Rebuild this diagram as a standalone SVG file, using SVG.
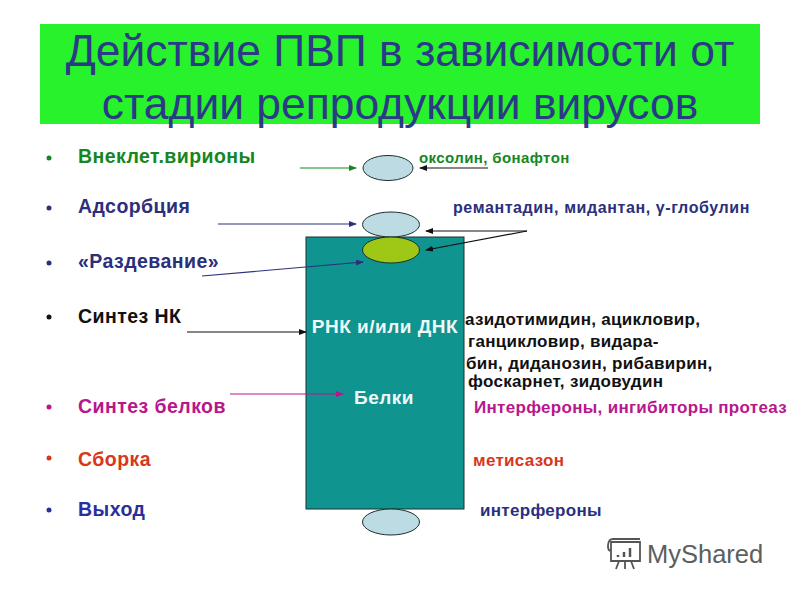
<svg xmlns="http://www.w3.org/2000/svg" width="800" height="600" viewBox="0 0 800 600">
<defs>
<marker id="ah" markerWidth="8" markerHeight="6" refX="7" refY="3" orient="auto" markerUnits="userSpaceOnUse"><path d="M0 0L8 3L0 6Z" fill="context-stroke"/></marker>
</defs>
<style>
text{font-family:"Liberation Sans",Arial,sans-serif}
.t{font-size:44.400px;fill:#2b3a86;text-anchor:middle}
.b{font-size:19.500px;font-weight:bold;letter-spacing:.45px}
.d{font-size:17px;font-weight:bold;letter-spacing:.3px}
.d2{font-size:16px;font-weight:bold;letter-spacing:.6px}
.d3{font-size:15px;font-weight:bold;letter-spacing:.4px}
.c{stroke-width:1.200;fill:none;marker-end:url(#ah)}
.e{stroke:#1c3030;stroke-width:1;fill:#bcdbe2}
.w{font-size:19px;font-weight:bold;fill:#eef8f6;text-anchor:middle;letter-spacing:.5px}
</style>
<rect width="800" height="600" fill="#fff"/>
<g id="title">
<rect x="40" y="24" width="720" height="100" fill="#27f22b"/>
<text class="t" x="400" y="66">Действие ПВП в зависимости от</text>
<text class="t" x="400" y="119">стадии репродукции вирусов</text>
</g>
<g id="cell"><rect x="306" y="237" width="158" height="272" fill="#0f9490" stroke="#1c3030"/>
<text class="w" x="385" y="333">РНК и/или ДНК</text>
<text class="w" x="384" y="404">Белки</text></g>
<g id="virion-1"><ellipse class="e" cx="388" cy="168" rx="25" ry="12.500"/></g>
<g id="virion-2"><ellipse class="e" cx="391" cy="224.500" rx="28.500" ry="12.500"/></g>
<g id="virion-3"><ellipse cx="391" cy="250" rx="28.500" ry="13" fill="#9fc716" stroke="#1c3030"/></g>
<g id="virion-4"><ellipse class="e" cx="391" cy="522" rx="28.500" ry="13"/></g>
<g id="stages">
<circle cx="49" cy="158" r="2.500" fill="#15871f"/><text class="b" x="78" y="163" fill="#15871f">Внеклет.вирионы</text>
<circle cx="49" cy="208" r="2.500" fill="#2b2f7c"/><text class="b" x="78" y="213" fill="#2b2f7c">Адсорбция</text>
<circle cx="49" cy="263" r="2.500" fill="#2b2f7c"/><text class="b" x="78" y="268" fill="#2b2f7c">«Раздевание»</text>
<circle cx="49" cy="317" r="2.500" fill="#111"/><text class="b" x="78" y="323" fill="#111">Синтез НК</text>
<circle cx="49" cy="407" r="2.500" fill="#b8178c"/><text class="b" x="78" y="413" fill="#b8178c">Синтез белков</text>
<circle cx="49" cy="458" r="2.500" fill="#d9361a"/><text class="b" x="78" y="466" fill="#d9361a">Сборка</text>
<circle cx="49" cy="510" r="2.500" fill="#2b2f9c"/><text class="b" x="78" y="516" fill="#2b2f9c">Выход</text>
</g>
<g id="drugs">
<text class="d3" x="419" y="163" fill="#15871f">оксолин, бонафтон</text>
<text class="d2" x="453" y="213" fill="#2b2f7c">ремантадин, мидантан, γ-глобулин</text>
<text class="d" x="465" y="325" fill="#111">азидотимидин, ацикловир,</text>
<text class="d" x="468" y="347" fill="#111">ганцикловир, видара-</text>
<text class="d" x="466" y="369" fill="#111">бин, диданозин, рибавирин,</text>
<text class="d" x="468" y="387" fill="#111">фоскарнет, зидовудин</text>
<text class="d" x="474" y="413" fill="#b8178c">Интерфероны, ингибиторы протеаз</text>
<text class="d" x="473" y="466" fill="#d9361a">метисазон</text>
<text class="d" x="480" y="516" fill="#2b2f7c">интерфероны</text>
</g>
<g id="connectors">
<line class="c" x1="300" y1="168" x2="356" y2="168" stroke="#15871f"/>
<line class="c" x1="488" y1="168" x2="420" y2="168" stroke="#111"/>
<line class="c" x1="218" y1="224" x2="356" y2="224" stroke="#2b2f7c"/>
<line class="c" x1="527" y1="231" x2="426" y2="231" stroke="#111"/>
<line class="c" x1="527" y1="231" x2="426" y2="250" stroke="#111"/>
<line class="c" x1="202" y1="276" x2="363" y2="262" stroke="#2b2f7c"/>
<line class="c" x1="187" y1="332" x2="306" y2="332" stroke="#111"/>
<line class="c" x1="230" y1="394" x2="343" y2="394" stroke="#b8178c"/>
</g>
<g id="logo" fill="none" stroke="#555" stroke-width="1.800">
<path d="M611 542H640V561H611ZM613 539H640M613 539C607 539 607 549 610 551M625 561V569M619 561L616 569M631 561L634 569"/>
<path d="M618 557V555M624 557V552M630 557V548" stroke-width="2.500"/>
<text x="647" y="563" fill="#5a5f5f" stroke="none" style="font-size:25.500px">MyShared</text>
</g>
</svg>
